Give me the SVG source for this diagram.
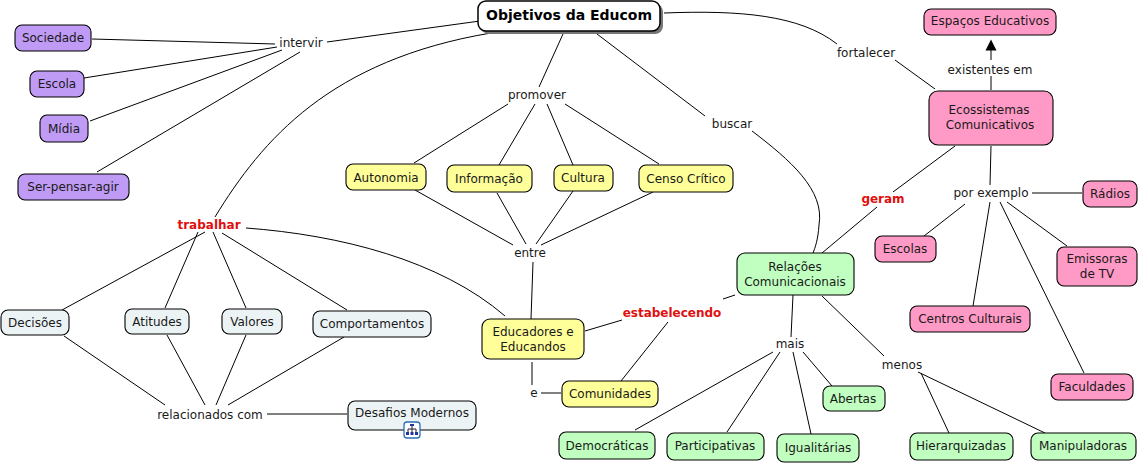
<svg xmlns="http://www.w3.org/2000/svg" width="1140" height="464" viewBox="0 0 1140 464">
<style>
text{font-family:"DejaVu Sans",Verdana,sans-serif;font-size:12px;fill:#1a1a1a;text-anchor:middle}
.n{stroke:#000;stroke-width:1.1}
.p{fill:#c09bf5}.y{fill:#ffff99}.g{fill:#c0ffc0}.k{fill:#ff99c5}.w{fill:#ecf3f5}
.l{fill:none;stroke:#000;stroke-width:1}
.r{font-weight:bold;fill:#e01010}
</style>
<defs><marker id="a" markerWidth="12" markerHeight="12" refX="6" refY="6" orient="auto" markerUnits="userSpaceOnUse"><path d="M0.500 0.500L11.500 6L0.500 11.500Z" fill="#000"/></marker></defs>
<rect width="1140" height="464" fill="#fff"/>
<g id="connectors" class="l">
<path d="M92 39L275 44M84 78L277 47M90 121L282 50M97 172L300 52"/>
<path d="M327 42L480 21M215 217C262 140 330 60 491 33"/>
<path d="M563 34L539 87M597 34L705 116M752 131C790 160 825 190 819 225C818 240 815 248 813 253"/>
<path d="M664 13C740 10 800 15 837 44M895 60L935 89"/>
<path d="M991 90V76"/><path d="M991 60V45" marker-end="url(#a)"/>
<path d="M508 104L414 163M535 104L499 165M547 104L573 165M565 104L659 164"/>
<path d="M415 190L513 245M497 193L526 244M573 191L536 244M653 192L541 245M533 262L531 319"/>
<path d="M205 232L62 310M198 232L165 308M213 232L246 308M222 233L347 310M246 228C340 235 440 260 505 316"/>
<path d="M64 336L165 405M167 335L205 405M246 335L216 405M344 337L228 405M267 414H347"/>
<path d="M532 385V362M541 393H561M735 295L723 299M585 331L622 320M668 322L621 381"/>
<path d="M955 146L893 192M877 207L822 253"/>
<path d="M991 146L990 185M1032 193H1082M965 204L924 236M990 202L973 306M1000 202L1084 373M1007 202L1067 246"/>
<path d="M793 295L791 337M822 296L884 356M918 372L1045 433M921 373L949 433"/>
<path d="M773 352L635 430M780 352L727 432M793 352L811 434M803 352L832 386"/>
</g>
<g id="n-root"><rect x="481" y="4" width="182" height="30" rx="8" fill="#777"/><rect x="478" y="1" width="182" height="30" rx="8" fill="#fff" stroke="#000" stroke-width="1.5"/><text x="569" y="20" style="font-size:14px;font-weight:bold;fill:#000" textLength="166" lengthAdjust="spacingAndGlyphs">Objetivos da Educom</text></g>
<g id="n-sociedade"><rect class="n p" x="15" y="25" width="76" height="26" rx="7"/><text x="53" y="42">Sociedade</text></g>
<g id="n-escola"><rect class="n p" x="30" y="71" width="54" height="26" rx="7"/><text x="57" y="88">Escola</text></g>
<g id="n-midia"><rect class="n p" x="40" y="115" width="48" height="27" rx="7"/><text x="64" y="133">Mídia</text></g>
<g id="n-ser"><rect class="n p" x="18" y="174" width="111" height="26" rx="7"/><text x="73" y="191">Ser-pensar-agir</text></g>
<g id="n-autonomia"><rect class="n y" x="346" y="164" width="80" height="26" rx="7"/><text x="386" y="182">Autonomia</text></g>
<g id="n-informacao"><rect class="n y" x="447" y="165" width="85" height="27" rx="7"/><text x="489" y="183">Informação</text></g>
<g id="n-cultura"><rect class="n y" x="554" y="165" width="59" height="26" rx="7"/><text x="583" y="182">Cultura</text></g>
<g id="n-censo"><rect class="n y" x="639" y="165" width="94" height="27" rx="7"/><text x="686" y="183">Censo Crítico</text></g>
<g id="n-educadores"><rect class="n y" x="482" y="319" width="102" height="40" rx="8"/><text x="533" y="336">Educadores e</text><text x="533" y="351">Educandos</text></g>
<g id="n-comunidades"><rect class="n y" x="562" y="381" width="96" height="26" rx="7"/><text x="610" y="398">Comunidades</text></g>
<g id="n-decisoes"><rect class="n w" x="1" y="310" width="68" height="25" rx="7"/><text x="35" y="327">Decisões</text></g>
<g id="n-atitudes"><rect class="n w" x="125" y="309" width="64" height="25" rx="7"/><text x="157" y="326">Atitudes</text></g>
<g id="n-valores"><rect class="n w" x="222" y="309" width="60" height="25" rx="7"/><text x="252" y="326">Valores</text></g>
<g id="n-comportamentos"><rect class="n w" x="313" y="311" width="118" height="26" rx="7"/><text x="372" y="328">Comportamentos</text></g>
<g id="n-desafios"><rect class="n w" x="348" y="401" width="128" height="29" rx="7"/><text x="412" y="417">Desafios Modernos</text>
<g><rect x="404" y="422" width="16" height="16" rx="3" fill="#fff" stroke="#2a6fb5" stroke-width="1.3"/><path d="M412 425V429M408 429H416M408 429V432M412 429V432M416 429V432" fill="none" stroke="#223" stroke-width="1"/><path d="M410 424h4v2h-4zM406 432h3v3h-3zM410.500 432h3v3h-3zM415 432h3v3h-3z" fill="#223399"/></g></g>
<g id="n-relacoes"><rect class="n g" x="737" y="253" width="117" height="42" rx="8"/><text x="795" y="271">Relações</text><text x="795" y="286">Comunicacionais</text></g>
<g id="n-abertas"><rect class="n g" x="823" y="386" width="62" height="25" rx="7"/><text x="853" y="403">Abertas</text></g>
<g id="n-democraticas"><rect class="n g" x="559" y="432" width="96" height="27" rx="7"/><text x="607" y="450">Democráticas</text></g>
<g id="n-participativas"><rect class="n g" x="667" y="433" width="97" height="27" rx="7"/><text x="715" y="450">Participativas</text></g>
<g id="n-igualitarias"><rect class="n g" x="777" y="434" width="82" height="28" rx="7"/><text x="818" y="452">Igualitárias</text></g>
<g id="n-hierarquizadas"><rect class="n g" x="910" y="433" width="103" height="27" rx="7"/><text x="961" y="450">Hierarquizadas</text></g>
<g id="n-manipuladoras"><rect class="n g" x="1031" y="433" width="105" height="27" rx="7"/><text x="1083" y="450">Manipuladoras</text></g>
<g id="n-espacos"><rect class="n k" x="924" y="9" width="132" height="26" rx="7"/><text x="990" y="25">Espaços Educativos</text></g>
<g id="n-ecossistemas"><rect class="n k" x="929" y="91" width="124" height="54" rx="9"/><text x="989" y="114">Ecossistemas</text><text x="990" y="129">Comunicativos</text></g>
<g id="n-radios"><rect class="n k" x="1083" y="181" width="54" height="26" rx="7"/><text x="1110" y="198">Rádios</text></g>
<g id="n-escolas"><rect class="n k" x="875" y="236" width="61" height="26" rx="7"/><text x="905" y="253">Escolas</text></g>
<g id="n-emissoras"><rect class="n k" x="1057" y="247" width="80" height="39" rx="7"/><text x="1097" y="263">Emissoras</text><text x="1097" y="278">de TV</text></g>
<g id="n-centros"><rect class="n k" x="910" y="306" width="120" height="26" rx="7"/><text x="970" y="323">Centros Culturais</text></g>
<g id="n-faculdades"><rect class="n k" x="1051" y="374" width="82" height="26" rx="7"/><text x="1092" y="391">Faculdades</text></g>
<g id="labels">
<text x="301" y="47">intervir</text><text x="537" y="99">promover</text><text x="732" y="128">buscar</text><text x="866" y="57">fortalecer</text><text x="990" y="74">existentes em</text>
<text x="530" y="257">entre</text><text x="534" y="397">e</text><text x="790" y="348">mais</text><text x="902" y="369">menos</text><text x="991" y="197">por exemplo</text><text x="210" y="419">relacionados com</text>
<text class="r" x="209" y="229">trabalhar</text><text class="r" x="883" y="203">geram</text><text class="r" x="672" y="317">estabelecendo</text>
</g>
</svg>
